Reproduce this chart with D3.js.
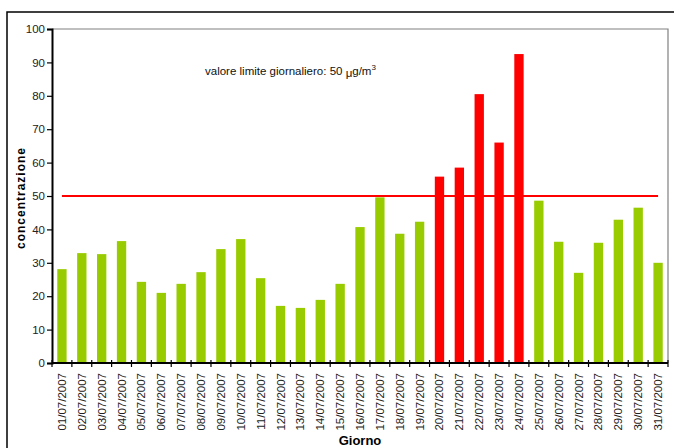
<!DOCTYPE html>
<html>
<head>
<meta charset="utf-8">
<script src="https://cdn.jsdelivr.net/npm/d3@7"></script>
<style>
    body { margin: 0; background: #fff; }
    svg { display: block; font-family: "Liberation Sans", Arial, sans-serif; }
</style>
</head>
<body>
<svg id="chart" width="674" height="448"></svg>
<script>
// Daily concentrations, July 2007
const days = [
    '01/07/2007', '02/07/2007', '03/07/2007', '04/07/2007', '05/07/2007', '06/07/2007', '07/07/2007',
    '08/07/2007', '09/07/2007', '10/07/2007', '11/07/2007', '12/07/2007', '13/07/2007', '14/07/2007',
    '15/07/2007', '16/07/2007', '17/07/2007', '18/07/2007', '19/07/2007', '20/07/2007', '21/07/2007',
    '22/07/2007', '23/07/2007', '24/07/2007', '25/07/2007', '26/07/2007', '27/07/2007', '28/07/2007',
    '29/07/2007', '30/07/2007', '31/07/2007'
];
const values = [
    28.1, 32.9, 32.6, 36.5, 24.3, 21.0, 23.7, 27.2, 34.1, 37.1, 25.4, 17.1, 16.5, 18.9, 23.7,
    40.7, 49.6, 38.7, 42.3, 55.8, 58.5, 80.5, 66.0, 92.5, 48.6, 36.3, 27.0, 36.0, 42.9, 46.5, 30.0
];
const limit = 50;
const yTicks = [0, 10, 20, 30, 40, 50, 60, 70, 80, 90, 100];

const svg = d3.select("#chart");
const plot = { left: 52, right: 668, top: 29, bottom: 363 };

// outer frame
svg.append("rect")
    .attr("x", 7).attr("y", 12)
    .attr("width", 700).attr("height", 500)
    .attr("fill", "none").attr("stroke", "#000").attr("stroke-width", 1.5);

const x = d3.scaleBand()
    .domain(days)
    .range([plot.left, plot.right])
    .paddingInner(0.53)
    .paddingOuter(0.265);

const y = d3.scaleLinear()
    .domain([0, 100])
    .range([plot.bottom, plot.top]);

// plot area border (top / right)
svg.append("path")
    .attr("d", `M${plot.left},${plot.top}H${plot.right}V${plot.bottom}`)
    .attr("fill", "none").attr("stroke", "#808080").attr("stroke-width", 1.2);

// bars
svg.selectAll(".bar")
    .data(values)
    .enter().append("rect")
    .attr("class", "bar")
    .attr("x", (d, i) => x(days[i]))
    .attr("y", d => y(d))
    .attr("width", x.bandwidth())
    .attr("height", d => y(0) - y(d))
    .attr("fill", d => d > limit ? "#FF0000" : "#99CC00");

// limit line, first to last category centre
const half = x.bandwidth() / 2;
svg.append("line")
    .attr("x1", x(days[0]) + half)
    .attr("x2", x(days[days.length - 1]) + half)
    .attr("y1", y(limit)).attr("y2", y(limit))
    .attr("stroke", "#FF0000").attr("stroke-width", 2.2);

// y axis
const yAxis = svg.append("g")
    .attr("transform", `translate(${plot.left},0)`)
    .call(d3.axisLeft(y).tickValues(yTicks).tickSize(5).tickPadding(2));
yAxis.select(".domain").attr("stroke", "#000").attr("stroke-width", 2);
yAxis.selectAll(".tick line").attr("stroke", "#000").attr("stroke-width", 1.2);
yAxis.selectAll(".tick text")
    .attr("font-size", 11.5).attr("fill", "#222")
    .attr("font-family", "'Liberation Sans', Arial, sans-serif");

// x axis
const xAxis = svg.append("g")
    .attr("transform", `translate(0,${plot.bottom})`);
xAxis.append("line")
    .attr("x1", plot.left).attr("x2", plot.right)
    .attr("stroke", "#000").attr("stroke-width", 2);
const step = x.step();
xAxis.selectAll(".xtick")
    .data(d3.range(days.length + 1))
    .enter().append("line")
    .attr("class", "xtick")
    .attr("x1", i => plot.left + i * step)
    .attr("x2", i => plot.left + i * step)
    .attr("y1", -3).attr("y2", 4)
    .attr("stroke", "#000").attr("stroke-width", 1.2);
xAxis.selectAll(".xlabel")
    .data(days)
    .enter().append("text")
    .attr("class", "xlabel")
    .attr("transform", d => `translate(${x(d) + half + 4},10) rotate(-90)`)
    .attr("text-anchor", "end")
    .attr("font-size", 11.5)
    .attr("fill", "#222")
    .text(d => d);

// axis titles
svg.append("text")
    .attr("transform", "translate(25,198) rotate(-90)")
    .attr("text-anchor", "middle")
    .attr("font-size", 12)
    .attr("font-weight", "bold")
    .attr("letter-spacing", 1)
    .text("concentrazione");

svg.append("text")
    .attr("x", 360).attr("y", 445)
    .attr("text-anchor", "middle")
    .attr("font-size", 13)
    .attr("font-weight", "bold")
    .text("Giorno");

// annotation
const note = svg.append("text")
    .attr("x", 205).attr("y", 75)
    .attr("font-size", 11.5)
    .attr("fill", "#111");
note.append("tspan").text("valore limite giornaliero: 50 ");
note.append("tspan").attr("dy", 2).text("\u03bc");
note.append("tspan").attr("dy", -2).text("g/m");
note.append("tspan").attr("dy", -5).attr("font-size", 8).text("3");
</script>
</body>
</html>
